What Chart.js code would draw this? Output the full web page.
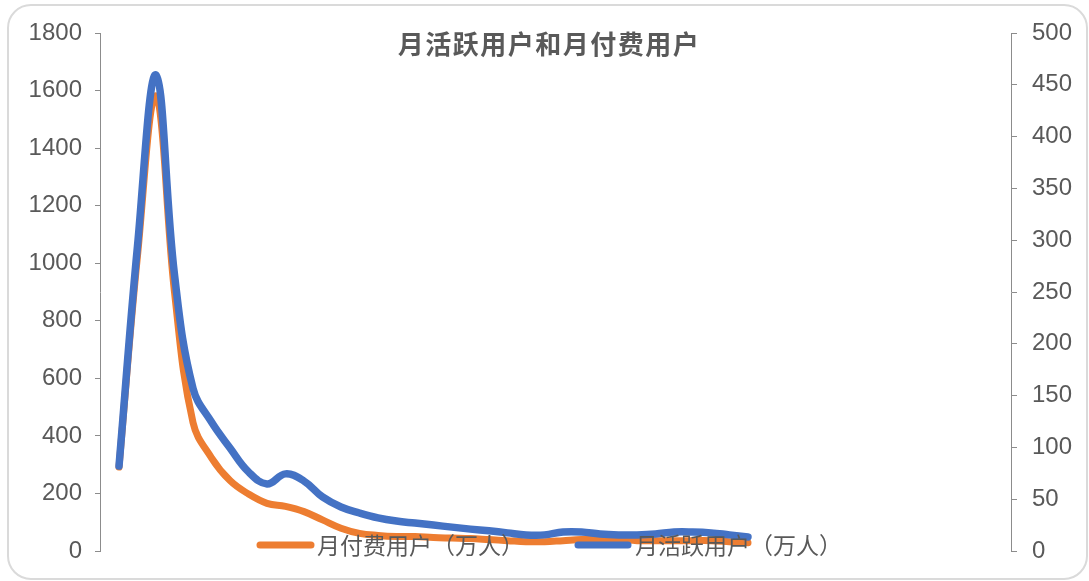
<!DOCTYPE html>
<html>
<head>
<meta charset="utf-8">
<script src="https://cdn.jsdelivr.net/npm/chart.js@4"></script>
<style>
  html, body { margin: 0; padding: 0; background: #ffffff; }
  #wrap { position: relative; width: 1089px; height: 581px; overflow: hidden; }
  #frame { position: absolute; left: 7px; top: 4px; width: 1077px; height: 572px;
           border: 2px solid #dadada; border-radius: 24px; pointer-events: none; }
  canvas { position: absolute; left: 0; top: 0; }
</style>
</head>
<body>
<div id="wrap">
  <canvas id="c" width="1089" height="581"></canvas>
  <div id="frame"></div>
</div>
<script>
const chartTitle = '月活跃用户和月付费用户';
const seriesNames = ['月付费用户（万人）', '月活跃用户（万人）'];
const periods = [1,2,3,4,5,6,7,8,9,10,11,12,13,14,15,16,17,18,19,20,21,22,23,24,25,26,27,28,29,30,31,32,33,34,35];
// 月付费用户（万人） - right axis
const payingUsers = [81,285,439,250,124,90,68,55,46,43,38,30,22,17,15,14,14,13,12.5,12,11,10,9,9,10,11,11,11,10,10,10,10,10,9,8];
// 月活跃用户（万人） - left axis
const activeUsers = [295,1060,1654,960,565,448,358,275,233,268,243,188,153,132,115,104,97,90,83,76,70,63,56,56,66,66,59,56,56,59,66,66,63,56,49];
const leftTicks = { min: 0, max: 1800, step: 200 };
const rightTicks = { min: 0, max: 500, step: 50 };

const ORANGE = '#ED7D31';
const BLUE = '#4472C4';
const TEXT = '#595959';
const AXIS = '#8c8c8c';

const toPoints = arr => arr.map((v, i) => ({ x: periods[i] - 1, y: v }));

const overlayPlugin = {
  id: 'overlay',
  afterDraw(chart) {
    const ctx = chart.ctx;
    ctx.save();
    // title
    ctx.fillStyle = TEXT;
    ctx.font = 'bold 26px "Noto Sans CJK SC", sans-serif';
    if ('letterSpacing' in ctx) ctx.letterSpacing = '1.5px';
    ctx.textAlign = 'center';
    ctx.textBaseline = 'middle';
    ctx.fillText(chartTitle, 549, 44);
    if ('letterSpacing' in ctx) ctx.letterSpacing = '0px';
    // legend
    const items = [
      { name: seriesNames[0], color: ORANGE, x1: 260, x2: 311, tx: 317 },
      { name: seriesNames[1], color: BLUE, x1: 578, x2: 628, tx: 635 }
    ];
    const ly = 545;
    items.forEach(it => {
      ctx.strokeStyle = it.color;
      ctx.lineWidth = 7;
      ctx.lineCap = 'round';
      ctx.beginPath();
      ctx.moveTo(it.x1, ly);
      ctx.lineTo(it.x2, ly);
      ctx.stroke();
      ctx.fillStyle = TEXT;
      ctx.font = '23px "Noto Sans CJK SC", sans-serif';
      ctx.textAlign = 'left';
      ctx.textBaseline = 'middle';
      ctx.fillText(it.name, it.tx, ly);
    });
    ctx.restore();
  }
};

const plainTick = v => String(v);

new Chart(document.getElementById('c'), {
  type: 'line',
  data: {
    datasets: [
      {
        label: seriesNames[0],
        data: toPoints(payingUsers),
        yAxisID: 'y1',
        borderColor: ORANGE,
        backgroundColor: ORANGE,
        borderWidth: 7,
        pointRadius: 0,
        tension: 0.4,
        borderCapStyle: 'round',
        borderJoinStyle: 'round',
        order: 1
      },
      {
        label: seriesNames[1],
        data: toPoints(activeUsers),
        yAxisID: 'y',
        borderColor: BLUE,
        backgroundColor: BLUE,
        borderWidth: 7.5,
        pointRadius: 0,
        tension: 0.4,
        borderCapStyle: 'round',
        borderJoinStyle: 'round',
        order: 0
      }
    ]
  },
  options: {
    responsive: false,
    animation: false,
    devicePixelRatio: 1,
    layout: { padding: { top: 33, bottom: 30, left: 0, right: 0 } },
    plugins: { legend: { display: false }, title: { display: false }, tooltip: { enabled: false } },
    scales: {
      x: {
        type: 'linear',
        display: false,
        min: -19 / 18.5,
        max: -19 / 18.5 + 911 / 18.5
      },
      y: {
        position: 'left',
        min: leftTicks.min, max: leftTicks.max,
        ticks: { stepSize: leftTicks.step, callback: plainTick, color: TEXT, font: { family: '"Liberation Sans", Arial, sans-serif', size: 24 }, padding: 13 },
        grid: { drawOnChartArea: false, drawTicks: true, tickLength: 5, color: AXIS },
        border: { display: true, color: AXIS, width: 1 },
        afterFit(scale) { scale.width = 100; }
      },
      y1: {
        position: 'right',
        min: rightTicks.min, max: rightTicks.max,
        ticks: { stepSize: rightTicks.step, callback: plainTick, color: TEXT, font: { family: '"Liberation Sans", Arial, sans-serif', size: 24 }, padding: 15 },
        grid: { drawOnChartArea: false, drawTicks: true, tickLength: 6, color: AXIS },
        border: { display: true, color: AXIS, width: 1 },
        afterFit(scale) { scale.width = 78; }
      }
    }
  },
  plugins: [overlayPlugin]
});
</script>
</body>
</html>
